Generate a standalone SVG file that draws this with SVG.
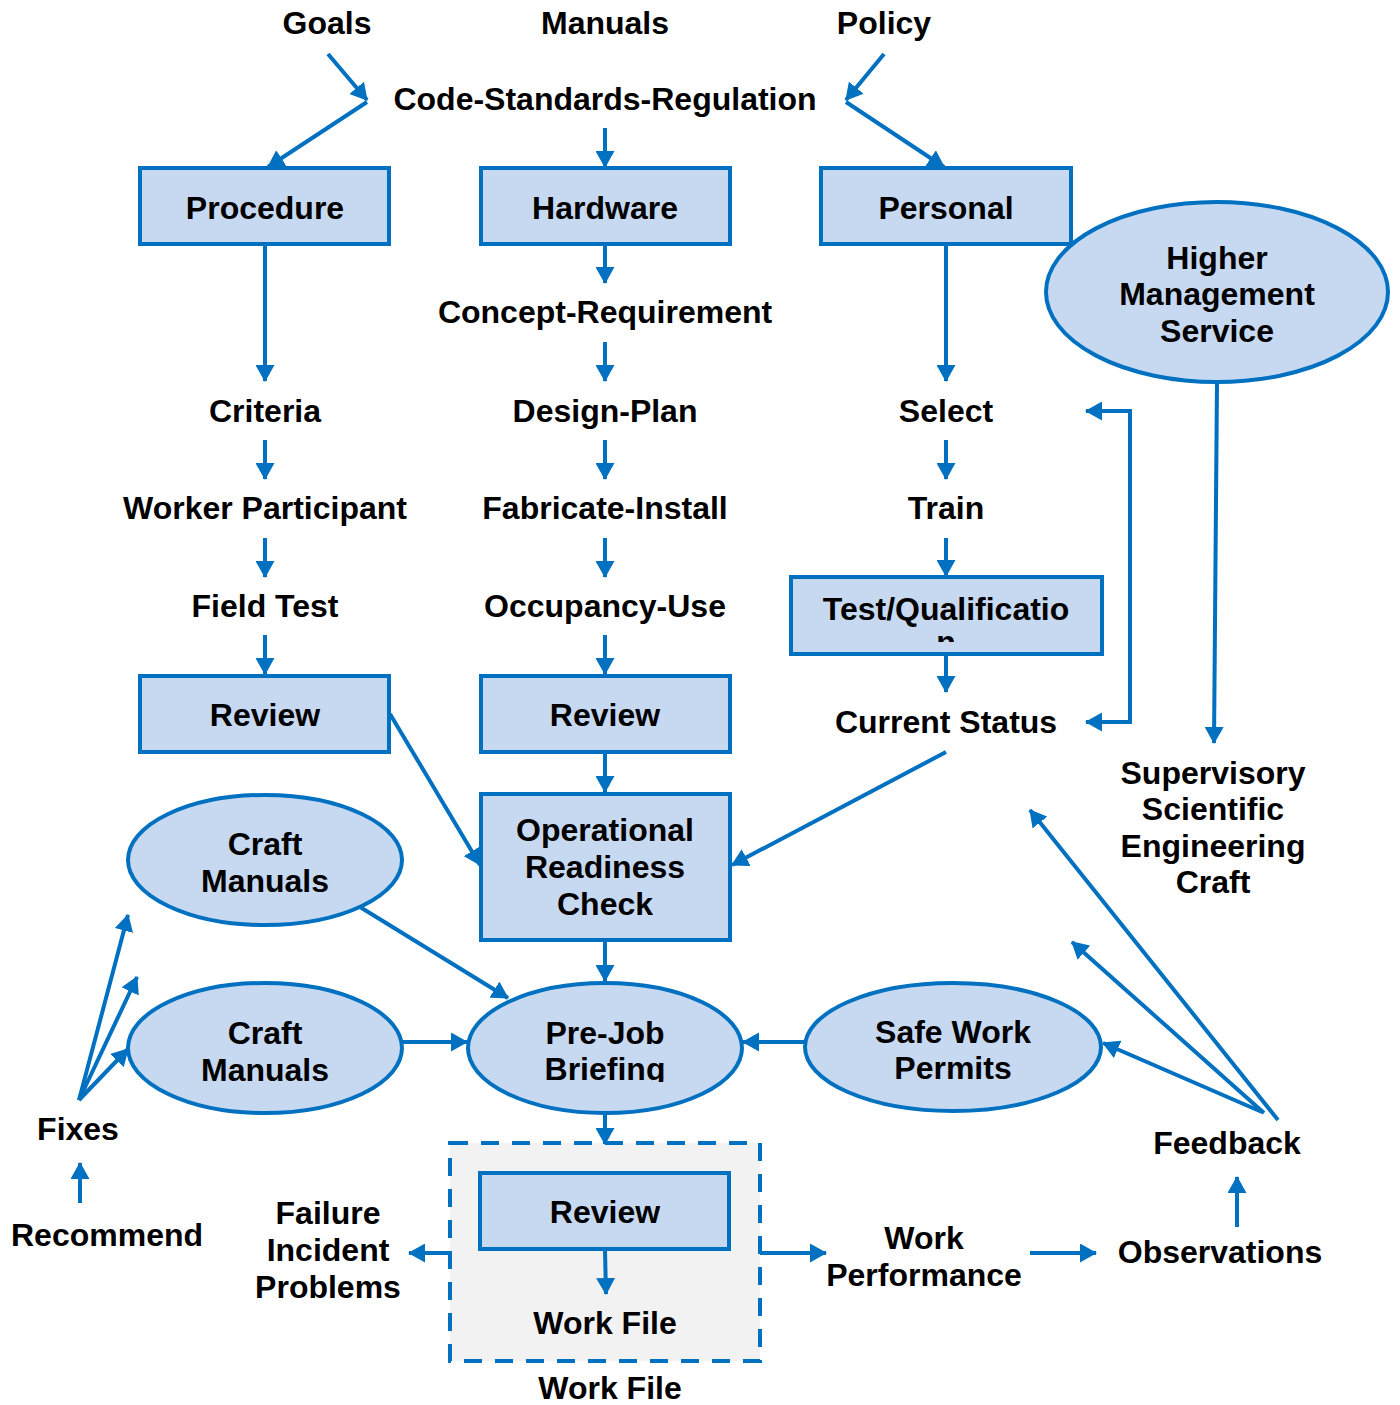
<svg xmlns="http://www.w3.org/2000/svg" width="1400" height="1405" viewBox="0 0 1400 1405">
<style>
text{font-family:"Liberation Sans",Arial,sans-serif;font-weight:bold;font-size:32px;fill:#000;text-anchor:middle}
.box{fill:#C6D9F1;stroke:#0070C0;stroke-width:4}
.ell{fill:#C6D9F1;stroke:#0070C0;stroke-width:4}
.ln{fill:none;stroke:#0070C0;stroke-width:4;marker-end:url(#ah)}
.pl{fill:none;stroke:#0070C0;stroke-width:4}
</style>
<defs>
<marker id="ah" markerUnits="userSpaceOnUse" markerWidth="17" markerHeight="19" refX="16" refY="9.5" orient="auto-start-reverse" viewBox="0 0 17 19">
<path d="M0,0 L17,9.5 L0,19 Z" fill="#0070C0"/>
</marker>
<clipPath id="clipTQ"><rect x="790" y="560" width="320" height="82"/></clipPath>
<clipPath id="clipPJ"><rect x="460" y="990" width="290" height="92"/></clipPath>
</defs>
<rect width="1400" height="1405" fill="#fff"/>

<g id="labels-top">
<text x="327" y="34">Goals</text>
<text x="605" y="34">Manuals</text>
<text x="884" y="34">Policy</text>
<text x="605" y="110">Code-Standards-Regulation</text>
</g>

<g id="work-file-group">
<rect x="450" y="1143" width="310" height="218" fill="#F2F2F2" stroke="#0070C0" stroke-width="4" stroke-dasharray="18,13"/>
</g>

<g id="connectors">
<line class="ln" x1="328" y1="54" x2="367" y2="100"/>
<line class="ln" x1="367" y1="102" x2="268" y2="167"/>
<line class="ln" x1="884" y1="54" x2="846" y2="100"/>
<line class="ln" x1="846" y1="102" x2="944" y2="167"/>
<line class="ln" x1="605" y1="128" x2="605" y2="167"/>
<line class="ln" x1="265" y1="246" x2="265" y2="381"/>
<line class="ln" x1="265" y1="440" x2="265" y2="479"/>
<line class="ln" x1="265" y1="538" x2="265" y2="577"/>
<line class="ln" x1="265" y1="635" x2="265" y2="674"/>
<line class="ln" x1="605" y1="246" x2="605" y2="283"/>
<line class="ln" x1="605" y1="342" x2="605" y2="381"/>
<line class="ln" x1="605" y1="440" x2="605" y2="479"/>
<line class="ln" x1="605" y1="538" x2="605" y2="577"/>
<line class="ln" x1="605" y1="635" x2="605" y2="674"/>
<line class="ln" x1="605" y1="752" x2="605" y2="792"/>
<line class="ln" x1="946" y1="246" x2="946" y2="381"/>
<line class="ln" x1="946" y1="440" x2="946" y2="479"/>
<line class="ln" x1="946" y1="538" x2="946" y2="576"/>
<line class="ln" x1="946" y1="654" x2="946" y2="692"/>
<path class="pl" d="M1086,411 H1130 V722 H1086" marker-start="url(#ah)" marker-end="url(#ah)"/>
<line class="ln" x1="1217" y1="382" x2="1214" y2="743"/>
<line class="ln" x1="390" y1="714" x2="480" y2="865"/>
<line class="ln" x1="946" y1="752" x2="732" y2="865"/>
<line class="ln" x1="360" y1="907" x2="508" y2="998"/>
<line class="ln" x1="605" y1="941" x2="605" y2="981"/>
<line class="ln" x1="402" y1="1042" x2="467" y2="1042"/>
<line class="ln" x1="805" y1="1042" x2="743" y2="1042"/>
<line class="ln" x1="605" y1="1115" x2="605" y2="1144"/>
<line class="ln" x1="79" y1="1100" x2="128" y2="915"/>
<line class="ln" x1="79" y1="1100" x2="137" y2="977"/>
<line class="ln" x1="79" y1="1100" x2="128" y2="1049"/>
<line class="ln" x1="80" y1="1203" x2="80" y2="1163"/>
<line class="ln" x1="450" y1="1253" x2="409" y2="1253"/>
<line class="ln" x1="605" y1="1250" x2="606" y2="1294"/>
<line class="ln" x1="760" y1="1253" x2="826" y2="1253"/>
<line class="ln" x1="1030" y1="1253" x2="1096" y2="1253"/>
<line class="ln" x1="1237" y1="1227" x2="1237" y2="1177"/>
<line class="ln" x1="1278" y1="1120" x2="1030" y2="810"/>
<line class="ln" x1="1264" y1="1113" x2="1072" y2="942"/>
<line class="ln" x1="1262" y1="1112" x2="1103" y2="1043"/>
</g>

<g id="procedure"><rect class="box" x="140" y="168" width="249" height="76"/><text x="265" y="219">Procedure</text></g>
<g id="hardware"><rect class="box" x="481" y="168" width="249" height="76"/><text x="605" y="219">Hardware</text></g>
<g id="personal"><rect class="box" x="821" y="168" width="250" height="76"/><text x="946" y="219">Personal</text></g>
<g id="higher-management"><ellipse class="ell" cx="1217" cy="292" rx="171" ry="90"/><text x="1217" y="269">Higher</text><text x="1217" y="305">Management</text><text x="1217" y="342">Service</text></g>

<g id="concept"><text x="605" y="323">Concept-Requirement</text></g>
<g id="criteria"><text x="265" y="422">Criteria</text></g>
<g id="design"><text x="605" y="422">Design-Plan</text></g>
<g id="select"><text x="946" y="422">Select</text></g>
<g id="worker"><text x="265" y="519">Worker Participant</text></g>
<g id="fabricate"><text x="605" y="519">Fabricate-Install</text></g>
<g id="train"><text x="946" y="519">Train</text></g>
<g id="field-test"><text x="265" y="617">Field Test</text></g>
<g id="occupancy"><text x="605" y="617">Occupancy-Use</text></g>
<g id="test-qual"><rect class="box" x="791" y="577" width="311" height="77"/><text x="946" y="620">Test/Qualificatio</text><text x="946" y="653" clip-path="url(#clipTQ)">n</text></g>
<g id="current-status"><text x="946" y="733">Current Status</text></g>
<g id="review-left"><rect class="box" x="140" y="676" width="249" height="76"/><text x="265" y="726">Review</text></g>
<g id="review-mid"><rect class="box" x="481" y="676" width="249" height="76"/><text x="605" y="726">Review</text></g>
<g id="supervisory"><text x="1213" y="784">Supervisory</text><text x="1213" y="820">Scientific</text><text x="1213" y="857">Engineering</text><text x="1213" y="893">Craft</text></g>
<g id="orc"><rect class="box" x="481" y="794" width="249" height="146"/><text x="605" y="841">Operational</text><text x="605" y="878">Readiness</text><text x="605" y="915">Check</text></g>
<g id="craft-manuals-1"><ellipse class="ell" cx="265" cy="860" rx="137" ry="65"/><text x="265" y="855">Craft</text><text x="265" y="892">Manuals</text></g>
<g id="craft-manuals-2"><ellipse class="ell" cx="265" cy="1048" rx="137" ry="65"/><text x="265" y="1044">Craft</text><text x="265" y="1081">Manuals</text></g>
<g id="pre-job"><ellipse class="ell" cx="605" cy="1048" rx="137" ry="65"/><text x="605" y="1044">Pre-Job</text><text x="605" y="1080" clip-path="url(#clipPJ)">Briefing</text></g>
<g id="safe-work"><ellipse class="ell" cx="953" cy="1047" rx="148" ry="64"/><text x="953" y="1043">Safe Work</text><text x="953" y="1079">Permits</text></g>
<g id="fixes"><text x="78" y="1140">Fixes</text></g>
<g id="recommend"><text x="107" y="1246">Recommend</text></g>
<g id="feedback"><text x="1227" y="1154">Feedback</text></g>
<g id="failure"><text x="328" y="1224">Failure</text><text x="328" y="1261">Incident</text><text x="328" y="1298">Problems</text></g>
<g id="review-inner"><rect class="box" x="480" y="1173" width="249" height="76"/><text x="605" y="1223">Review</text></g>
<g id="work-file-inner"><text x="605" y="1334">Work File</text></g>
<g id="work-file-label"><text x="610" y="1399">Work File</text></g>
<g id="work-performance"><text x="924" y="1249">Work</text><text x="924" y="1286">Performance</text></g>
<g id="observations"><text x="1220" y="1263">Observations</text></g>
</svg>
